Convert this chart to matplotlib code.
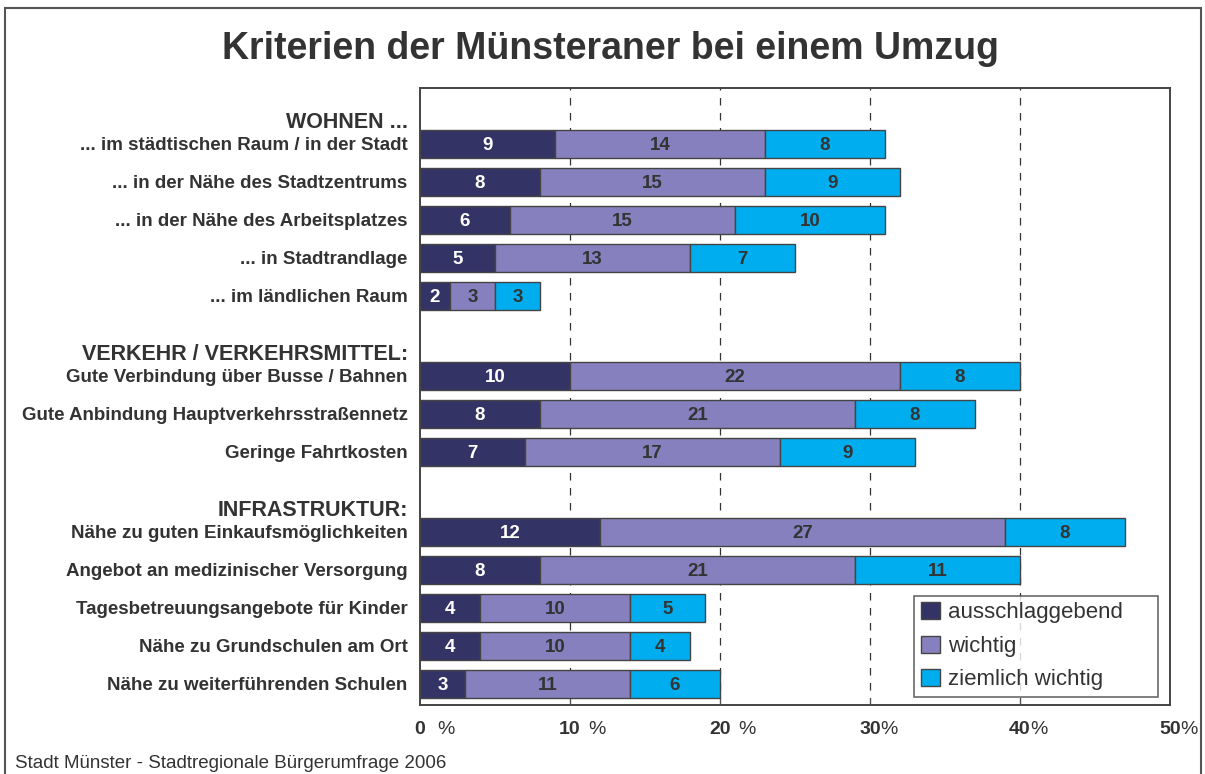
import matplotlib.pyplot as plt
from matplotlib.patches import Rectangle, Patch
from matplotlib.transforms import blended_transform_factory

plt.rcParams['font.family'] = ['Liberation Sans', 'DejaVu Sans']

kategorien = [
    '... im städtischen Raum / in der Stadt',
    '... in der Nähe des Stadtzentrums',
    '... in der Nähe des Arbeitsplatzes',
    '... in Stadtrandlage',
    '... im ländlichen Raum',
    'Gute Verbindung über Busse / Bahnen',
    'Gute Anbindung Hauptverkehrsstraßennetz',
    'Geringe Fahrtkosten',
    'Nähe zu guten Einkaufsmöglichkeiten',
    'Angebot an medizinischer Versorgung',
    'Tagesbetreuungsangebote für Kinder',
    'Nähe zu Grundschulen am Ort',
    'Nähe zu weiterführenden Schulen',
]
gruppen = ['WOHNEN ...', 'VERKEHR / VERKEHRSMITTEL:', 'INFRASTRUKTUR:']
gruppe = [0, 0, 0, 0, 0, 1, 1, 1, 2, 2, 2, 2, 2]

ausschlaggebend = [9, 8, 6, 5, 2, 10, 8, 7, 12, 8, 4, 4, 3]
wichtig = [14, 15, 15, 13, 3, 22, 21, 17, 27, 21, 10, 10, 11]
ziemlich_wichtig = [8, 9, 10, 7, 3, 8, 8, 9, 8, 11, 5, 4, 6]

serien = [
    ('ausschlaggebend', ausschlaggebend, '#333366', 'white'),
    ('wichtig', wichtig, '#8780BE', '#333333'),
    ('ziemlich wichtig', ziemlich_wichtig, '#00AEEF', '#333333'),
]

x_ticks = [0, 10, 20, 30, 40, 50]
prozent_abstand = [26, 27, 27, 19, 19, 19]  # Abstand des %-Zeichens in px

# Zeilenpositionen mit Lücke zwischen den Gruppen
ypos = [i + 1.1 * g for i, g in enumerate(gruppe)]

fig = plt.figure(figsize=(12.05, 7.74), dpi=100)
ax = fig.add_axes([420 / 1205, 1 - 705 / 774, 750 / 1205, 617 / 774])

links = [0] * len(kategorien)
for name, werte, farbe, textfarbe in serien:
    ax.barh(ypos, werte, left=links, height=0.74, color=farbe,
            edgecolor='#444444', linewidth=1, zorder=2)
    for y, l, w in zip(ypos, links, werte):
        ax.text(l + w / 2, y, str(w), ha='center', va='center_baseline',
                fontsize=13.5, fontweight='bold', color=textfarbe, zorder=3)
    links = [l + w for l, w in zip(links, werte)]

for x in [10, 20, 30, 40]:
    ax.axvline(x, color='#333333', lw=0.9, linestyle=(0, (6, 6)), zorder=1)

ax.set_xlim(0, 50)
ax.set_ylim(14.76, -1.47)
ax.set_xticks([10, 20, 30, 40])
ax.tick_params(axis='x', direction='in', length=5, color='#555555',
               labelbottom=False)
ax.set_yticks(ypos)
ax.set_yticklabels(kategorien, fontsize=13.5, fontweight='bold', color='#333333')
ax.tick_params(axis='y', length=0, pad=9)
for s in ax.spines.values():
    s.set_color('#444444')
    s.set_linewidth(1.4)

trans = blended_transform_factory(ax.transAxes, ax.transData)
for g, titel in enumerate(gruppen):
    erste = ypos[gruppe.index(g)]
    ax.text(-0.016, erste - 0.62, titel, transform=trans, ha='right',
            va='center_baseline', fontsize=15.5, fontweight='bold', color='#333333')

trans_x = blended_transform_factory(ax.transData, ax.transAxes)
for x, d in zip(x_ticks, prozent_abstand):
    ax.text(x, -0.036, str(x), transform=trans_x, ha='center',
            va='center_baseline', fontsize=14, fontweight='bold', color='#333333')
    ax.annotate('%', (x, -0.036), xycoords=trans_x, xytext=(d * 0.72, 0),
                textcoords='offset points', ha='center', va='center_baseline',
                fontsize=14, color='#333333')

handles = [Patch(facecolor=f, edgecolor='#444444', label=n) for n, _, f, _ in serien]
leg = ax.legend(handles=handles, loc='lower left', mode='expand',
                bbox_to_anchor=(494 / 750, 8 / 617, 244 / 750, 97 / 617),
                fontsize=16, frameon=True, fancybox=False, handlelength=0.85,
                handleheight=0.8, handletextpad=0.4, borderpad=0.3,
                labelspacing=0.55, borderaxespad=0)
leg.get_frame().set_edgecolor('#444444')
leg.get_frame().set_linewidth(1.2)
for t in leg.get_texts():
    t.set_color('#333333')

fig.text(0.507, 1 - 45 / 774, 'Kriterien der Münsteraner bei einem Umzug',
         ha='center', va='center_baseline', fontsize=27, fontweight='bold',
         color='#333333')
fig.text(15 / 1205, 1 - 762 / 774, 'Stadt Münster - Stadtregionale Bürgerumfrage 2006',
         ha='left', va='center_baseline', fontsize=13.5, color='#333333')

fig.add_artist(Rectangle((5 / 1205, -0.05), 1196 / 1205, 1 - 8 / 774 + 0.05,
                         transform=fig.transFigure, fill=False,
                         edgecolor='#555555', linewidth=1.5))

fig.savefig('out.png', dpi=100)
